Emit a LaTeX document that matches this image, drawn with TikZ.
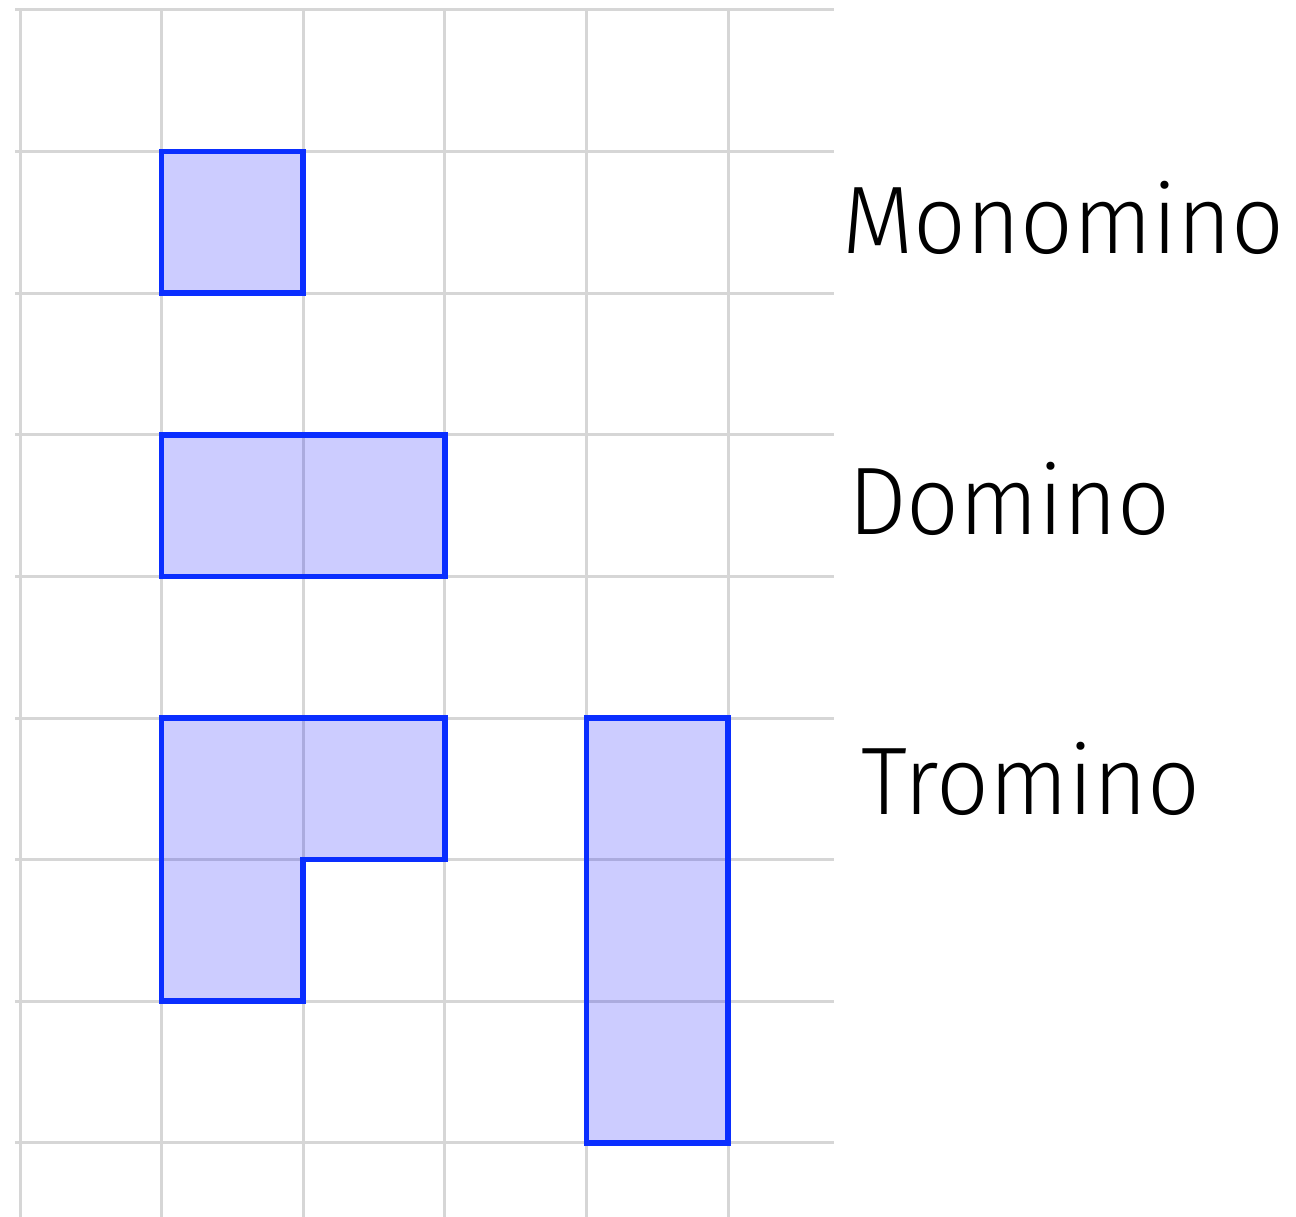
\documentclass[tikz,border=0pt]{standalone}
\usepackage{fontspec}
\IfFontExistsTF{Fira Sans Light}{\setmainfont{Fira Sans Light}[FakeStretch=0.965]}{\setmainfont{Liberation Sans}}
\definecolor{gridgray}{HTML}{D6D6D6}
\definecolor{polyblue}{HTML}{0A2EFF}
\tikzset{
  gridline/.style={draw=gridgray, line width=3pt},
  poly/.style={draw=polyblue, line width=5.5pt, line join=miter, fill=blue, fill opacity=0.2, draw opacity=1},
  label/.style={anchor=base west, inner sep=0pt, font=\fontsize{96}{110}\selectfont, text=black}
}
\begin{document}
\begin{tikzpicture}[x=1pt, y=-1pt]
\useasboundingbox (0,0) rectangle (1296,1217);
% grid
\foreach \k in {0,...,5} {
  \draw[gridline] ({20+\k*141.6},10) -- ({20+\k*141.6},1217);
}
\foreach \k in {0,...,8} {
  \draw[gridline] (15,{10+\k*141.6}) -- (834,{10+\k*141.6});
}
% polyominoes
\draw[poly] (161.6,151.6) rectangle (303.2,293.2);
\draw[poly] (161.6,434.8) rectangle (444.8,576.4);
\draw[poly] (161.6,718) -- (444.8,718) -- (444.8,859.6) -- (303.2,859.6) -- (303.2,1001.2) -- (161.6,1001.2) -- cycle;
\draw[poly] (586.4,718) rectangle (728,1142.8);
% labels
\node[label] (mono) at (842,254) {Monomino};
\node[label] (domi) at (848,534) {Domino};
\node[label] (tromi) at (861,814) {Tromino};
\end{tikzpicture}
\end{document}
